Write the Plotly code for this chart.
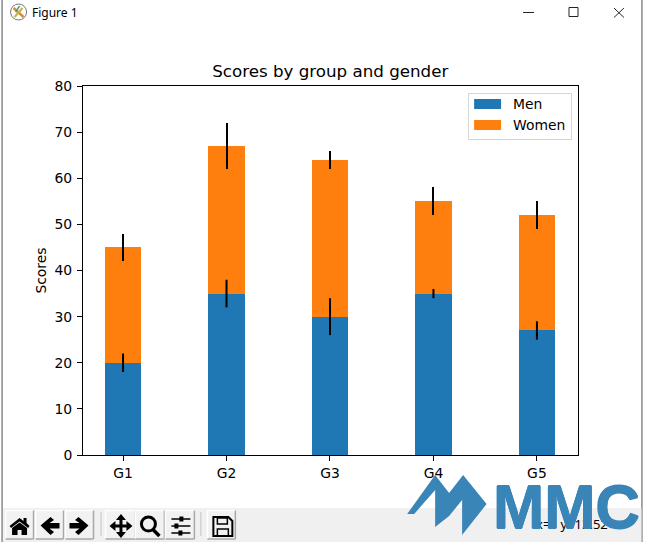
import plotly.graph_objects as go

groups = ["G1", "G2", "G3", "G4", "G5"]
men = [20, 35, 30, 35, 27]
women = [25, 32, 34, 20, 25]
men_err = [2, 3, 4, 1, 2]
women_err = [3, 5, 2, 3, 3]
y_ticks = [0, 10, 20, 30, 40, 50, 60, 70, 80]
series_names = ["Men", "Women"]
colors = ["#1f77b4", "#ff7f0e"]
title = "Scores by group and gender"
y_label = "Scores"
err_color = "#000000"

W, H = 645, 542
L, R, T, B = 82.5, 578, 86, 455
FONT = "DejaVu Sans"
SIZE = 13.9


def X(p):
    return (p - L) / (R - L)


def Y(p):
    return 1 - (p - T) / (B - T)


def poly(points, fill="#000000", line=None, width=1, layer="above"):
    d = "M" + " L".join(f"{X(a):.5f},{Y(b):.5f}" for a, b in points) + " Z"
    return dict(type="path", xref="paper", yref="paper", path=d, fillcolor=fill, layer=layer,
                line=dict(color=line or "rgba(0,0,0,0)", width=width))


def rect(x0, y0, x1, y1, fill="rgba(0,0,0,0)", line=None, width=1, layer="above", kind="rect"):
    return dict(type=kind, xref="paper", yref="paper", x0=X(x0), x1=X(x1), y0=Y(y0), y1=Y(y1),
                fillcolor=fill, layer=layer, line=dict(color=line or "rgba(0,0,0,0)", width=width))


def seg(x0, y0, x1, y1, color="#000000", width=1):
    return dict(type="line", xref="paper", yref="paper", x0=X(x0), x1=X(x1), y0=Y(y0), y1=Y(y1),
                layer="above", line=dict(color=color, width=width))


def text(x, y, s, size=12, color="#000000", family=FONT, anchor="left", bold=False, shadow=None):
    font = dict(size=size, color=color, family=family)
    if shadow:
        font["shadow"] = shadow
    return dict(xref="paper", yref="paper", x=X(x), y=Y(y), text=f"<b>{s}</b>" if bold else s,
                showarrow=False, xanchor=anchor, yanchor="middle", borderpad=0, borderwidth=0,
                font=font)


fig = go.Figure()
fig.add_bar(x=groups, y=men, name=series_names[0], width=0.35, marker=dict(color=colors[0], line_width=0))
fig.add_bar(x=groups, y=women, name=series_names[1], width=0.35, marker=dict(color=colors[1], line_width=0),
            error_y=dict(type="data", array=women_err, color=err_color, thickness=2, width=0))
# the men's error bars must sit above the women's bars, so they get their own top layer
fig.add_scatter(x=groups, y=men, mode="markers", marker=dict(size=1, opacity=0), hoverinfo="skip",
                error_y=dict(type="data", array=men_err, color=err_color, thickness=2, width=0))

shapes = []
ann = []

# window chrome
shapes += [seg(1.5, 0, 1.5, 542, "#8a8a8a", 1.5), seg(642, 0, 642, 542, "#8a8a8a", 1.5)]
shapes += [seg(523, 12.5, 534, 12.5, "#222222", 1)]
shapes += [rect(569, 7.5, 578, 16.5, line="#222222", width=1)]
shapes += [seg(614, 8, 624, 17.5, "#222222", 1), seg(624, 8, 614, 17.5, "#222222", 1)]
shapes += [rect(10, 4, 26, 20, fill="#ffffff", line="#777777", width=1, kind="circle")]
shapes += [seg(13, 8, 23, 17, "#e08a2b", 2.5), seg(14, 17, 22, 8, "#c9b23a", 2), seg(19, 6, 15, 12, "#5a9a6a", 1.5)]
ann.append(text(31, 13, "Figure 1", size=12, family="Noto Sans"))

# toolbar
shapes += [rect(2.5, 508, 641.5, 542, fill="#f0f0f0")]
for x0, x1 in [(5, 33), (35, 63), (65, 93), (105, 135), (135, 164), (165, 194), (207, 235)]:
    shapes.append(rect(x0, 510.5, x1, 539, fill="#f2f2f2"))
    shapes += [seg(x0, 510.5, x1, 510.5, "#ffffff", 1.5), seg(x0, 510.5, x0, 539, "#ffffff", 1.5),
               seg(x0, 539, x1, 539, "#a8a8a8", 1.5), seg(x1, 510.5, x1, 539, "#a8a8a8", 1.5)]
shapes += [seg(100.5, 512, 100.5, 536, "#c4c4c4", 1), seg(200.5, 512, 200.5, 536, "#c4c4c4", 1)]
# home
shapes += [poly([(9, 526), (19, 518), (23, 521), (23, 518), (26, 518), (26, 523), (29, 526), (27.5, 528),
                 (19, 521.5), (10.5, 528)])]
shapes += [poly([(11.5, 528), (19, 522.5), (26.5, 528), (26.5, 535), (21, 535), (21, 530), (17, 530), (17, 535), (11.5, 535)])]
# back / forward arrows
shapes += [poly([(40, 525.5), (50, 517), (53.5, 520), (49, 523), (59, 523), (59, 528.5), (49, 528.5), (53.5, 532), (50, 535)])]
shapes += [poly([(88, 525.5), (78, 517), (74.5, 520), (79, 523), (69, 523), (69, 528.5), (79, 528.5), (74.5, 532), (78, 535)])]
# move
shapes += [seg(120.5, 517, 120.5, 535, "#000000", 3), seg(111, 526, 130, 526, "#000000", 3)]
shapes += [poly([(120.5, 514), (115.5, 520), (125.5, 520)]), poly([(120.5, 538), (115.5, 532), (125.5, 532)]),
           poly([(109, 526), (115, 521), (115, 531)]), poly([(132, 526), (126, 521), (126, 531)])]
# zoom
shapes += [rect(141, 517, 155, 531, line="#000000", width=3, kind="circle"), seg(152, 529, 159, 536, "#000000", 3.5)]
# sliders
for y, kx in [(519, 181), (526, 176), (533, 180)]:
    shapes += [seg(171, y, 190, y, "#000000", 1.5), rect(kx - 2, y - 2.5, kx + 2, y + 2.5, fill="#000000")]
# save
shapes += [poly([(213, 517), (228, 517), (232, 521), (232, 536), (213, 536)], fill="rgba(0,0,0,0)", line="#000000", width=2),
           rect(217, 518, 227, 524, line="#000000", width=1.5), rect(217, 529, 228, 536, line="#000000", width=1.5)]

# coordinate readout, partly hidden by the watermark
ann.append(text(608, 524, "x=&nbsp;&nbsp; y=13.52", size=13, family="Noto Sans", anchor="right"))

# legend box
shapes += [rect(468.5, 93.5, 571.5, 139.5, fill="rgba(255,255,255,0.8)", line="#d6d6d6", width=1)]
for i, name in enumerate(series_names):
    y0 = 99 + 21 * i
    shapes.append(rect(474, y0, 501, y0 + 10, fill=colors[i]))
    ann.append(text(513, y0 + 5, name, size=SIZE))

# watermark
mark = "#3a85b8"
shapes += [poly([(407, 514), (435, 475), (449, 493), (463, 475), (486.5, 504), (462, 535), (462, 500),
                 (449, 516), (435, 527), (435, 490), (414, 514)], fill=mark)]
ann.append(text(566.5, 506.5, "MMC", size=61.5, family="Liberation Sans", color=mark, anchor="center", bold=True,
                shadow=f"0.6px 0 0 {mark}, -0.6px 0 0 {mark}, 0 1px 0 {mark}, 0 -1px 0 {mark}"))

fig.update_layout(
    width=W, height=H, autosize=False, showlegend=False, barmode="stack",
    margin=dict(l=L, r=W - R, t=T, b=H - B, pad=0),
    paper_bgcolor="#ffffff", plot_bgcolor="#ffffff",
    font=dict(family=FONT, size=SIZE, color="#000000"),
    title=dict(text=title, x=(L + R) / 2 / W, xanchor="center", y=1 - 71 / H, yanchor="middle",
               font=dict(size=16.7, family=FONT, color="#000000")),
    shapes=shapes, annotations=ann,
    xaxis=dict(range=[-0.387, 4.397], tickmode="array", tickvals=groups, ticktext=groups, ticks="outside",
               ticklen=5, tickwidth=1, tickcolor="#000000", showgrid=False, zeroline=False,
               showline=True, linecolor="#000000", linewidth=1, mirror=True, tickfont=dict(size=SIZE)),
    yaxis=dict(range=[0, 80], tickmode="array", tickvals=y_ticks, ticks="outside", ticklen=5, tickwidth=1,
               tickcolor="#000000", showgrid=False, zeroline=False, showline=True, linecolor="#000000",
               linewidth=1, mirror=True, tickfont=dict(size=SIZE), ticklabelstandoff=2,
               title=dict(text=y_label, font=dict(size=SIZE), standoff=4)),
)
fig.write_html("out.html", config=dict(displayModeBar=False),
               post_script="document.body.style.margin='0';")
